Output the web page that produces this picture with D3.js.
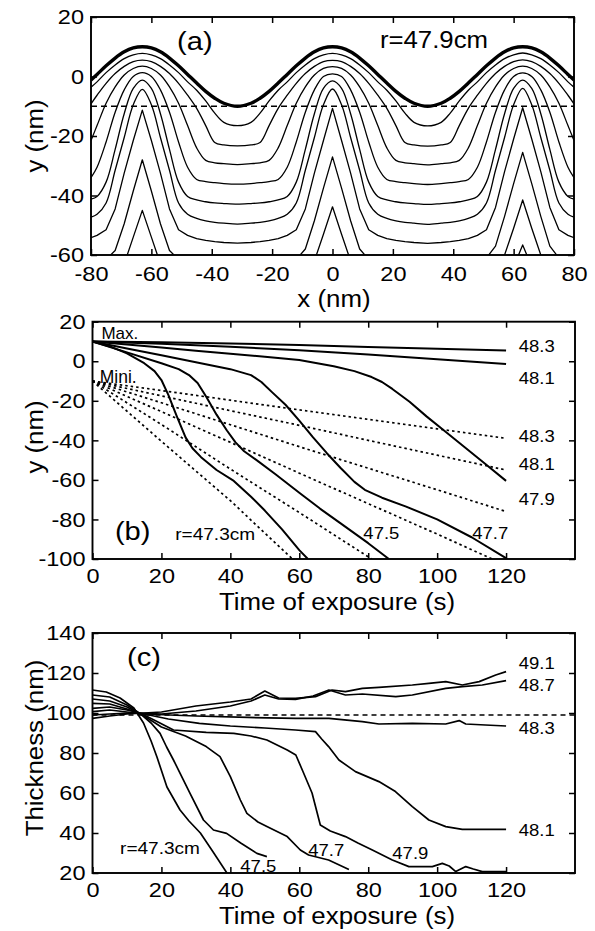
<!DOCTYPE html>
<html>
<head>
<meta charset="utf-8">
<title>Surface profiles and thickness vs exposure</title>
<script src="https://cdnjs.cloudflare.com/ajax/libs/d3/7.8.5/d3.min.js"></script>
<style>
  body { margin: 0; background: #fff; }
  svg { display: block; }
</style>
</head>
<body>
<svg id="chart" width="595" height="931"></svg>
<script>
// ---------- panel (a): surface profiles at r=47.9cm, y (nm) read at profileX (nm)
var profileX = [-80,-78,-75,-72,-69,-66,-63,-60,-57,-54,-51,-48,-45,-42,-39,-36,-31.5,-27,-24,-21,-18,-15,-12,-9,-6,-3,0,3,6,9,12,15,18,21,24,27,31.5,36,39,42,45,48,51,54,57,60,63,66,69,72,75,78,80];

// initial surface (thick line)
var profile0 = [-1.2,0.7,3.6,6.2,8.3,9.6,10,9.6,8.3,6.2,3.6,0.7,-2.2,-5.0,-7.3,-9.0,-10,-9.0,-7.3,-5.0,-2.2,0.7,3.6,6.2,8.3,9.6,10,9.6,8.3,6.2,3.6,0.7,-2.2,-5.0,-7.3,-9.0,-10,-9.0,-7.3,-5.0,-2.2,0.7,3.6,6.2,8.3,9.6,10,9.6,8.3,6.2,3.6,0.7,-1.2];
var profile1 = [-3.6,-1.8,1.3,3.9,6.0,7.3,7.8,7.3,6.0,3.9,1.3,-1.8,-4.6,-8.2,-12.3,-15.4,-16.5,-15.4,-12.3,-8.2,-4.6,-1.8,1.3,3.9,6.0,7.3,7.8,7.3,6.0,3.9,1.3,-1.8,-4.6,-8.2,-12.3,-15.4,-16.6,-15.4,-12.3,-8.2,-4.6,-1.8,1.3,3.9,6.0,7.3,7.9,7.3,6.0,3.9,1.3,-1.8,-3.6];
var profile2 = [-9.2,-6.3,-2.3,1.0,3.4,5.0,5.5,5.0,3.4,1.0,-2.3,-6.3,-10.7,-16.5,-22.2,-23.0,-23.3,-23.0,-22.2,-16.5,-10.7,-6.3,-2.3,1.0,3.4,5.0,5.4,5.0,3.4,1.0,-2.3,-6.3,-10.7,-16.5,-22.2,-23.0,-23.4,-23.0,-22.2,-16.5,-10.7,-6.3,-2.3,1.0,3.4,5.0,5.6,5.0,3.4,1.0,-2.3,-6.3,-9.2];
var profile3 = [-21.5,-16.5,-9.0,-3.5,0.5,2.7,3.5,2.7,0.5,-3.5,-9.0,-16.5,-24.0,-28.2,-29.0,-29.3,-29.6,-29.3,-29.0,-28.2,-24.0,-16.5,-9.0,-3.5,0.5,2.7,3.3,2.7,0.5,-3.5,-9.0,-16.5,-24.0,-28.2,-29.0,-29.3,-29.7,-29.3,-29.0,-28.2,-24.0,-16.5,-9.0,-3.5,0.5,2.7,3.5,2.7,0.5,-3.5,-9.0,-16.5,-21.5];
var profile4 = [-34.0,-30.5,-22.0,-12.0,-4.5,0.0,1.3,0.0,-4.5,-12.0,-22.0,-30.5,-34.6,-35.3,-35.7,-36.0,-36.2,-36.0,-35.7,-35.3,-34.6,-30.5,-22.0,-12.0,-4.5,0.0,0.9,0.0,-4.5,-12.0,-22.0,-30.5,-34.6,-35.3,-35.7,-36.0,-36.3,-36.0,-35.7,-35.3,-34.6,-30.5,-22.0,-12.0,-4.5,0.0,1.2,0.0,-4.5,-12.0,-22.0,-30.5,-34.0];
var profile5 = [-41.2,-40.3,-35.5,-24.5,-12.5,-4.0,-1.2,-4.0,-12.5,-24.5,-35.5,-40.3,-41.5,-42.1,-42.5,-42.7,-42.9,-42.7,-42.5,-42.1,-41.5,-40.3,-35.5,-24.5,-12.5,-4.0,-1.5,-4.0,-12.5,-24.5,-35.5,-40.3,-41.5,-42.1,-42.5,-42.7,-43.0,-42.7,-42.5,-42.1,-41.5,-40.3,-35.5,-24.5,-12.5,-4.0,-1.2,-4.0,-12.5,-24.5,-35.5,-40.3,-41.2];
var profile6 = [-47.3,-46.3,-42.5,-31.5,-20.5,-9.5,-4.3,-9.5,-20.5,-31.5,-42.5,-46.3,-47.7,-48.5,-49.0,-49.3,-49.6,-49.3,-49.0,-48.5,-47.7,-46.3,-42.5,-31.5,-20.5,-9.5,-4.2,-9.5,-20.5,-31.5,-42.5,-46.3,-47.7,-48.5,-49.0,-49.3,-49.7,-49.3,-49.0,-48.5,-47.7,-46.3,-42.5,-31.5,-20.5,-9.5,-4.0,-9.5,-20.5,-31.5,-42.5,-46.3,-47.3];
var profile7 = [-54.2,-53.4,-51.5,-44.5,-32.5,-21.5,-11.3,-21.5,-32.5,-44.5,-51.5,-53.4,-54.5,-55.1,-55.5,-55.8,-56.0,-55.8,-55.5,-55.1,-54.5,-53.4,-51.5,-44.5,-32.5,-21.5,-10.7,-21.5,-32.5,-44.5,-51.5,-53.4,-54.5,-55.1,-55.5,-55.8,-56.1,-55.8,-55.5,-55.1,-54.5,-53.4,-51.5,-44.0,-32.0,-21.0,-10.5,-21.0,-32.0,-44.0,-51.5,-53.4,-54.2];
var profile8 = [-62.2,-62.0,-61.5,-58.5,-49.5,-38.5,-28.0,-38.5,-49.5,-58.5,-61.5,-62.0,-62.3,-62.4,-62.5,-62.5,-62.6,-62.5,-62.5,-62.4,-62.3,-62.0,-61.5,-58.0,-48.5,-37.5,-27.0,-37.5,-48.5,-58.0,-61.5,-62.0,-62.3,-62.4,-62.5,-62.5,-62.6,-62.5,-62.5,-62.4,-62.3,-62.0,-61.0,-57.0,-47.0,-36.0,-25.5,-36.0,-47.0,-57.0,-61.0,-62.0,-62.2];
var profile9 = [-69,-69,-69,-68,-63,-54,-45,-54,-63,-68,-69,-69,-69,-69,-69,-69,-69,-69,-69,-69,-69,-69,-69,-68,-62,-53,-43.8,-53,-62,-68,-69,-69,-69,-69,-69,-69,-69,-69,-69,-69,-69,-69,-69,-67,-60,-51,-41.5,-51,-60,-67,-69,-69,-69];
var profile10 = [-72,-72,-72,-72,-72,-70,-64,-70,-72,-72,-72,-72,-72,-72,-72,-72,-72,-72,-72,-72,-72,-72,-72,-72,-72,-68,-61,-68,-72,-72,-72,-72,-72,-72,-72,-72,-72,-72,-72,-72,-72,-72,-72,-72,-72,-64,-56.6,-64,-72,-72,-72,-72,-72];
var initialMinimum = -10;

var ticksXa = [-80, -60, -40, -20, 0, 20, 40, 60, 80];
var ticksYa = [-60, -40, -20, 0, 20];

// ---------- panel (b): y (nm) of maxima (solid) and minima (dotted) vs time (s)
var max473 = [[0,10],[5,7.5],[10,4],[15,-1],[18,-5],[20,-9.5],[22,-17],[24.5,-28],[27,-38.5],[29,-44],[31.5,-48.5],[36,-55],[41,-60.5],[46,-68.5],[50,-75.5],[55,-85],[60,-95.5],[62.5,-100]];
var max475 = [[0,10],[10,4.5],[20,-1],[25,-4],[28,-7],[30.5,-11],[33,-18],[36,-27],[39,-35],[41.5,-41],[44,-45.5],[48,-50.5],[53,-57],[60,-66.5],[66,-74.5],[72,-82],[80,-92],[86,-100]];
var max477 = [[0,10],[10,6.5],[20,3],[30,-0.5],[40,-4],[46,-7],[49,-10.5],[52,-15.5],[56,-22],[60,-30],[64,-38.5],[68,-46.5],[72,-54],[76,-61],[79,-65],[84,-69],[91,-73.5],[100,-80],[110,-89],[120,-99.6]];
var max479 = [[0,10],[10,8.5],[20,7],[30,5.3],[40,3.8],[50,2.3],[60,0.6],[70,-2.5],[76,-5],[81,-8],[84,-10.5],[87,-14],[92,-20.5],[97,-28],[102,-35],[108,-43.5],[114,-52],[120,-60.5]];
var max481 = [[0,10],[20,8.8],[40,7.3],[60,5.6],[80,3.4],[100,1],[120,-1.4]];
var max483 = [[0,10],[20,9.6],[40,9],[60,8.2],[80,7.2],[100,6.3],[120,5.4]];

var min473 = [[0,-10],[20,-40.5],[40,-70.5],[58,-100]];
var min475 = [[0,-10],[20,-32],[40,-54.5],[60,-76.5],[81,-100]];
var min477 = [[0,-10],[20,-25.5],[40,-41],[60,-56.6],[80,-72],[100,-87.4],[116,-100]];
var min479 = [[0,-10],[20,-21],[40,-32.1],[60,-43.2],[80,-54.1],[100,-65],[120,-76]];
var min481 = [[0,-10],[20,-17.5],[40,-25],[60,-32.4],[80,-40],[100,-47.5],[120,-55]];
var min483 = [[0,-10],[20,-14.8],[40,-19.7],[60,-24.6],[80,-29.4],[100,-34.2],[120,-39]];

var ticksXb = [0, 20, 40, 60, 80, 100, 120];
var ticksYb = [-100, -80, -60, -40, -20, 0, 20];

// ---------- panel (c): thickness (nm) vs time (s)
var thk473 = [[0,111.5],[4,110.5],[8,107.5],[12,102.5],[14.8,95],[17,86],[18.7,78],[21.6,63],[25.4,51.5],[28,46],[31.3,40],[35,30.5],[39,20]];
var thk475 = [[0,109],[5,108],[10,104],[14,99.5],[17,95],[19.6,89.8],[21.5,83],[23.5,76.5],[28.3,59.8],[32.2,46.5],[35.1,41.5],[38.9,39.8],[43,35],[47.7,29.8],[50.6,28.2]];
var thk477 = [[0,107],[5,106],[10,103],[15,98.5],[20,93],[27,88.5],[33,83.2],[37,78.2],[40,68.2],[42.9,56.5],[44.8,49.8],[48,45.5],[50.6,43.2],[56.5,38.2],[60.3,31.5],[62.7,29],[68.5,26.5],[74.4,21.8]];
var thk479 = [[0,104.8],[5,104.5],[10,102],[15,99],[19,95.5],[23.5,91.5],[33,90.3],[41,89.8],[46,88.5],[50.6,86.5],[56.5,81.5],[59,79],[61,71],[63.7,60],[66.1,44],[69,41],[73.4,38.2],[77,35],[81.2,31.5],[87,26.5],[91.8,23.2],[98.6,23.2],[101.5,24.8],[103.5,23.5],[105.4,20.7],[108.3,23.2],[110.5,22],[113.1,20.7],[120,20.7]];
var thk481 = [[0,102.3],[5,103],[10,101.5],[15,99.5],[22,97],[31,94.8],[40,93.5],[50,92.5],[58.9,91.5],[64.7,90.7],[66.5,87],[68.5,83.2],[71.5,76.5],[76.3,70.7],[83.1,65.7],[87.9,60.7],[92.8,53.2],[97.6,46.5],[102.5,43.2],[107.3,41.8],[120,41.8]];
var thk483 = [[0,100.7],[5,101.5],[10,100.5],[15,99.5],[30,98.5],[45,97.8],[58.9,97.3],[68.6,97.3],[78.3,95.7],[83.1,94.5],[92.8,94.8],[102.5,94.5],[106.4,96.2],[108.3,94.5],[114,94],[120,93.5]];
var thk487 = [[0,99],[5,99.5],[10,100],[15,99.8],[20,99.5],[30,101],[40,103.5],[46,106],[50,109],[54,107],[58.9,106.8],[64,108.5],[68.6,111.5],[73.4,109],[78.3,109.5],[88,108.2],[92.8,109],[102.5,112.3],[107.3,113.2],[113.1,114],[120,116.2]];
var thk491 = [[0,97.3],[5,98.5],[10,99.5],[15,100],[20,100.5],[30,103.5],[40,105.5],[46,107],[50,111],[54,107.5],[58.9,107.3],[64.7,108.2],[69.5,111.5],[73.4,110.7],[78.3,112.3],[83.1,112.8],[92.8,114],[97.6,114.8],[102.5,115.7],[107.3,114],[112.2,115.7],[117,119],[120,120.7]];
var initialThickness = 99;

var ticksXc = [0, 20, 40, 60, 80, 100, 120];
var ticksYc = [20, 40, 60, 80, 100, 120, 140];

// ---------- drawing
var svg = d3.select('#chart');
var fontFamily = '"Liberation Sans", Arial, Helvetica, sans-serif';
var widenBy = 1.12;

// plain hyphen minus, like the original figure
var plain = function(d) { return String(d); };

// the scan uses a slightly wider face than Arial, so stretch glyphs a bit
function widen(sel, k) {
  sel.each(function() {
    var len = this.getComputedTextLength();
    if (len > 0) {
      d3.select(this)
          .attr('textLength', len * (k || widenBy))
          .attr('lengthAdjust', 'spacingAndGlyphs');
    }
  });
}

function makePanel(box, xDomain, yDomain, xTicks, yTicks, xGap) {
  var x = d3.scaleLinear().domain(xDomain).range([box.left, box.right]);
  var y = d3.scaleLinear().domain(yDomain).range([box.bottom, box.top]);
  var g = svg.append('g');

  g.append('clipPath')
      .attr('id', box.id)
    .append('rect')
      .attr('x', box.left)
      .attr('y', box.top)
      .attr('width', box.right - box.left)
      .attr('height', box.bottom - box.top);

  var plot = g.append('g')
      .attr('clip-path', 'url(#' + box.id + ')');

  var styleAxis = function(sel) {
    sel.attr('font-family', fontFamily)
        .attr('font-size', 21);
    sel.select('.domain').remove();
    sel.selectAll('.tick line')
        .attr('stroke-width', 1.5);
    sel.selectAll('.tick text')
        .attr('fill', '#000');
  };

  g.append('g')
      .attr('transform', 'translate(0,' + box.bottom + ')')
      .call(d3.axisBottom(x).tickValues(xTicks).tickFormat(plain)
        .tickSizeInner(-6).tickSizeOuter(0).tickPadding(xGap))
      .call(styleAxis)
      .call(function(s) { widen(s.selectAll('text')); });

  g.append('g')
      .attr('transform', 'translate(0,' + box.top + ')')
      .call(d3.axisTop(x).tickValues(xTicks).tickSizeInner(-6).tickSizeOuter(0).tickFormat(''))
      .call(styleAxis);

  g.append('g')
      .attr('transform', 'translate(' + box.left + ',0)')
      .call(d3.axisLeft(y).tickValues(yTicks).tickFormat(plain)
        .tickSizeInner(-6).tickSizeOuter(0).tickPadding(7))
      .call(styleAxis)
      .call(function(s) { widen(s.selectAll('text')); });

  g.append('g')
      .attr('transform', 'translate(' + box.right + ',0)')
      .call(d3.axisRight(y).tickValues(yTicks).tickSizeInner(-6).tickSizeOuter(0).tickFormat(''))
      .call(styleAxis);

  g.append('rect')
      .attr('x', box.left)
      .attr('y', box.top)
      .attr('width', box.right - box.left)
      .attr('height', box.bottom - box.top)
      .attr('fill', 'none')
      .attr('stroke', '#000')
      .attr('stroke-width', 1.9);

  return {x: x, y: y, g: g, plot: plot};
}

function addText(g, str, px, py, size, k) {
  var t = g.append('text')
      .attr('x', px)
      .attr('y', py)
      .attr('font-family', fontFamily)
      .attr('font-size', size)
      .attr('fill', '#000')
      .text(str);
  if (k !== 1) {
    widen(t, k);
  }
  return t;
}

function addTitle(g, str, px, py, rotate) {
  var t = g.append('text')
      .attr('font-family', fontFamily)
      .attr('font-size', 23.5)
      .attr('fill', '#000')
      .attr('text-anchor', 'middle')
      .text(str);
  if (rotate) {
    t.attr('transform', 'translate(' + px + ',' + py + ') rotate(-90)');
  } else {
    t.attr('x', px).attr('y', py);
  }
  widen(t, 1.1);
}

function lineOf(p, curve) {
  return d3.line()
      .x(function(d) { return p.x(d[0]); })
      .y(function(d) { return p.y(d[1]); })
      .curve(curve || d3.curveLinear);
}

// ---- (a)
var pa = makePanel({id: 'clipA', left: 91, right: 574, top: 17, bottom: 255},
    [-80, 80], [-60, 20], ticksXa, ticksYa, 11);

var laterProfiles = [profile1, profile2, profile3, profile4, profile5,
  profile6, profile7, profile8, profile9, profile10];

var zipProfile = function(values) {
  return profileX.map(function(v, i) { return [v, values[i]]; });
};

laterProfiles.forEach(function(values, i) {
  pa.plot.append('path')
      .attr('d', lineOf(pa, i < 6 ? d3.curveCatmullRom.alpha(0.5) : d3.curveLinear)(zipProfile(values)))
      .attr('fill', 'none')
      .attr('stroke', '#000')
      .attr('stroke-width', 1.3)
      .attr('stroke-linejoin', 'round');
});

pa.plot.append('path')
    .attr('d', lineOf(pa)([[-80, initialMinimum], [80, initialMinimum]]))
    .attr('fill', 'none')
    .attr('stroke', '#000')
    .attr('stroke-width', 1.4)
    .attr('stroke-dasharray', '6,4');

pa.plot.append('path')
    .attr('d', lineOf(pa, d3.curveCatmullRom.alpha(0.5))(zipProfile(profile0)))
    .attr('fill', 'none')
    .attr('stroke', '#000')
    .attr('stroke-width', 3.4);

addText(pa.g, '(a)', pa.x(-51.5), pa.y(8.9), 26);
addText(pa.g, 'r=47.9cm', pa.x(15.7), pa.y(9.6), 23);
addTitle(pa.g, 'x (nm)', 334, 307);
addTitle(pa.g, 'y (nm)', 43, 136, true);

// ---- (b)
var pb = makePanel({id: 'clipB', left: 92.5, right: 575, top: 321.7, bottom: 559},
    [0, 140], [-100, 20], ticksXb, ticksYb, 9);

[max473, max475, max477, max479, max481, max483].forEach(function(pts) {
  pb.plot.append('path')
      .attr('d', lineOf(pb)(pts))
      .attr('fill', 'none')
      .attr('stroke', '#000')
      .attr('stroke-width', 2)
      .attr('stroke-linejoin', 'round');
});

[min473, min475, min477, min479, min481, min483].forEach(function(pts) {
  pb.plot.append('path')
      .attr('d', lineOf(pb)(pts))
      .attr('fill', 'none')
      .attr('stroke', '#000')
      .attr('stroke-width', 1.7)
      .attr('stroke-dasharray', '2.5,3');
});

var labelsB = [
  {text: '48.3', x: 123.7, y: 4.7},
  {text: '48.1', x: 123.7, y: -11.5},
  {text: '48.3', x: 123.7, y: -40.8},
  {text: '48.1', x: 123.7, y: -55.2},
  {text: '47.9', x: 123.7, y: -72.9},
  {text: '47.5', x: 78.6, y: -89.8},
  {text: '47.7', x: 110.2, y: -89.8}
];
labelsB.forEach(function(l) {
  addText(pb.g, l.text, pb.x(l.x), pb.y(l.y), 16.5);
});
addText(pb.g, 'r=47.3cm', pb.x(24), pb.y(-90.3), 17);
addText(pb.g, '(b)', pb.x(6.5), pb.y(-90.3), 26);
addText(pb.g, 'Max.', pb.x(2.6), pb.y(11.3), 17, 1);
addText(pb.g, 'Mini.', pb.x(2.1), pb.y(-11), 17.5, 1);
addTitle(pb.g, 'Time of exposure (s)', 337, 610);
addTitle(pb.g, 'y (nm)', 43, 437, true);

// ---- (c)
var pc = makePanel({id: 'clipC', left: 92.5, right: 575, top: 633, bottom: 873},
    [0, 140], [20, 140], ticksXc, ticksYc, 9);

pc.plot.append('path')
    .attr('d', lineOf(pc)([[0, initialThickness], [140, initialThickness]]))
    .attr('fill', 'none')
    .attr('stroke', '#000')
    .attr('stroke-width', 1.4)
    .attr('stroke-dasharray', '5,4');

[thk473, thk475, thk477, thk479, thk481, thk483, thk487, thk491].forEach(function(pts) {
  pc.plot.append('path')
      .attr('d', lineOf(pc)(pts))
      .attr('fill', 'none')
      .attr('stroke', '#000')
      .attr('stroke-width', 1.7)
      .attr('stroke-linejoin', 'round');
});

var labelsC = [
  {text: '49.1', x: 123.7, y: 122},
  {text: '48.7', x: 123.7, y: 111},
  {text: '48.3', x: 123.7, y: 89.5},
  {text: '48.1', x: 123.7, y: 38.75},
  {text: '47.7', x: 62.6, y: 28.75},
  {text: '47.9', x: 87, y: 27},
  {text: '47.5', x: 42.9, y: 20.5}
];
labelsC.forEach(function(l) {
  addText(pc.g, l.text, pc.x(l.x), pc.y(l.y), 16.5);
});
addText(pc.g, 'r=47.3cm', pc.x(8), pc.y(29.5), 17);
addText(pc.g, '(c)', pc.x(10), pc.y(123.5), 26);
addTitle(pc.g, 'Time of exposure (s)', 337, 924);
addTitle(pc.g, 'Thickness (nm)', 43, 748, true);
</script>
</body>
</html>
